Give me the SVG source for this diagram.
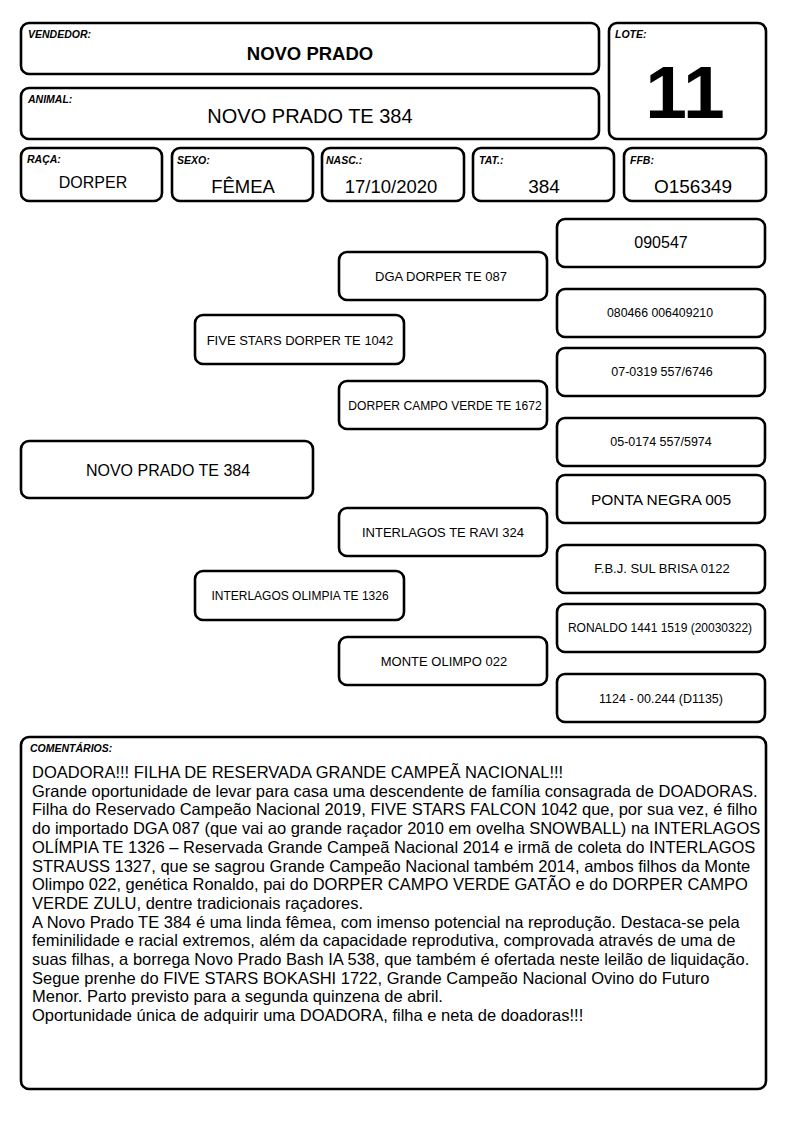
<svg xmlns="http://www.w3.org/2000/svg" width="794" height="1123" viewBox="0 0 794 1123">
<style>
.b{fill:#fff;stroke:#000;stroke-width:2.6}
.lbl{font-family:"Liberation Sans",Arial,sans-serif;font-weight:bold;font-style:italic;font-size:10.5px;fill:#000}
.v{font-family:"Liberation Sans",Arial,sans-serif;fill:#000;text-anchor:middle}
.c{font-family:"Liberation Sans",Arial,sans-serif;font-size:16.5px;fill:#000}
</style>
<rect width="794" height="1123" fill="#fff"/>
<g id="vendedor"><rect class="b" x="21" y="23" width="578" height="51" rx="8"/><text class="lbl" x="28" y="38">VENDEDOR:</text><text class="v" x="310" y="60" font-size="18.5" font-weight="bold">NOVO PRADO</text></g>
<g id="animal"><rect class="b" x="21" y="88" width="578" height="51" rx="8"/><text class="lbl" x="28" y="103">ANIMAL:</text><text class="v" x="310" y="123" font-size="20">NOVO PRADO TE 384</text></g>
<g id="lote"><rect class="b" x="609" y="23" width="157" height="116" rx="8"/><text class="lbl" x="615" y="38">LOTE:</text><text class="v" x="685" y="118" font-size="75" font-weight="bold">11</text></g>
<g id="raca"><rect class="b" x="21" y="148" width="141" height="53" rx="8"/><text class="lbl" x="27" y="163">RAÇA:</text><text class="v" x="93" y="188" font-size="16">DORPER</text></g>
<g id="sexo"><rect class="b" x="172" y="148" width="141" height="53" rx="8"/><text class="lbl" x="177" y="164">SEXO:</text><text class="v" x="243" y="193" font-size="18.5">FÊMEA</text></g>
<g id="nasc"><rect class="b" x="322" y="148" width="142" height="53" rx="8"/><text class="lbl" x="326" y="164">NASC.:</text><text class="v" x="391" y="193" font-size="18.5">17/10/2020</text></g>
<g id="tat"><rect class="b" x="473" y="148" width="141" height="53" rx="8"/><text class="lbl" x="479" y="164">TAT.:</text><text class="v" x="544" y="193" font-size="19">384</text></g>
<g id="ffb"><rect class="b" x="624" y="148" width="142" height="53" rx="8"/><text class="lbl" x="630" y="164">FFB:</text><text class="v" x="693" y="193" font-size="19">O156349</text></g>

<g id="connectors"></g>

<g id="p-main"><rect class="b" x="21" y="441" width="292" height="57" rx="8"/><text class="v" x="168" y="475.5" font-size="16">NOVO PRADO TE 384</text></g>
<g id="p-sire"><rect class="b" x="195" y="315" width="209" height="49" rx="8"/><text class="v" x="300" y="344.5" font-size="13">FIVE STARS DORPER TE 1042</text></g>
<g id="p-dam"><rect class="b" x="195" y="571" width="209" height="49" rx="8"/><text class="v" x="300" y="600" font-size="12">INTERLAGOS OLIMPIA TE 1326</text></g>
<g id="p-ss"><rect class="b" x="339" y="252" width="208" height="48" rx="8"/><text class="v" x="441" y="280.5" font-size="13">DGA DORPER TE 087</text></g>
<g id="p-sd"><rect class="b" x="339" y="381" width="208" height="48" rx="8"/><text class="v" x="445" y="409.5" font-size="12.1">DORPER CAMPO VERDE TE 1672</text></g>
<g id="p-ds"><rect class="b" x="339" y="508" width="208" height="48" rx="8"/><text class="v" x="443" y="536.5" font-size="13">INTERLAGOS TE RAVI 324</text></g>
<g id="p-dd"><rect class="b" x="339" y="637" width="208" height="48" rx="8"/><text class="v" x="444" y="665.5" font-size="13">MONTE OLIMPO 022</text></g>
<g id="p-sss"><rect class="b" x="557" y="219" width="208" height="48" rx="8"/><text class="v" x="661" y="248" font-size="16">090547</text></g>
<g id="p-ssd"><rect class="b" x="557" y="289" width="208" height="48" rx="8"/><text class="v" x="660" y="317" font-size="12.3">080466 006409210</text></g>
<g id="p-sds"><rect class="b" x="557" y="348" width="208" height="48" rx="8"/><text class="v" x="662" y="376" font-size="12.5">07-0319 557/6746</text></g>
<g id="p-sdd"><rect class="b" x="557" y="418" width="208" height="48" rx="8"/><text class="v" x="661" y="446" font-size="12.5">05-0174 557/5974</text></g>
<g id="p-dss"><rect class="b" x="557" y="475" width="208" height="48" rx="8"/><text class="v" x="661" y="504.5" font-size="15.5">PONTA NEGRA 005</text></g>
<g id="p-dsd"><rect class="b" x="557" y="545" width="208" height="48" rx="8"/><text class="v" x="662" y="573" font-size="13">F.B.J. SUL BRISA 0122</text></g>
<g id="p-dds"><rect class="b" x="557" y="604" width="208" height="48" rx="8"/><text class="v" x="660" y="632" font-size="12">RONALDO 1441 1519 (20030322)</text></g>
<g id="p-ddd"><rect class="b" x="557" y="674" width="208" height="48" rx="8"/><text class="v" x="661" y="702.5" font-size="12.5">1124 - 00.244 (D1135)</text></g>

<g id="comentarios"><rect class="b" x="21" y="737" width="745" height="352" rx="8"/>
<text class="lbl" x="30" y="752" font-size="10">COMENTÁRIOS:</text>
<text class="c" x="32" y="778">DOADORA!!! FILHA DE RESERVADA GRANDE CAMPEÃ NACIONAL!!!</text>
<text class="c" x="32" y="796.7">Grande oportunidade de levar para casa uma descendente de família consagrada de DOADORAS.</text>
<text class="c" x="32" y="815.4">Filha do Reservado Campeão Nacional 2019, FIVE STARS FALCON 1042 que, por sua vez, é filho</text>
<text class="c" x="32" y="834.1">do importado DGA 087 (que vai ao grande raçador 2010 em ovelha SNOWBALL) na INTERLAGOS</text>
<text class="c" x="32" y="852.8">OLÍMPIA TE 1326 – Reservada Grande Campeã Nacional 2014 e irmã de coleta do INTERLAGOS</text>
<text class="c" x="32" y="871.5">STRAUSS 1327, que se sagrou Grande Campeão Nacional também 2014, ambos filhos da Monte</text>
<text class="c" x="32" y="890.2">Olimpo 022, genética Ronaldo, pai do DORPER CAMPO VERDE GATÃO e do DORPER CAMPO</text>
<text class="c" x="32" y="908.9">VERDE ZULU, dentre tradicionais raçadores.</text>
<text class="c" x="32" y="927.6">A Novo Prado TE 384 é uma linda fêmea, com imenso potencial na reprodução. Destaca-se pela</text>
<text class="c" x="32" y="946.3">feminilidade e racial extremos, além da capacidade reprodutiva, comprovada através de uma de</text>
<text class="c" x="32" y="965">suas filhas, a borrega Novo Prado Bash IA 538, que também é ofertada neste leilão de liquidação.</text>
<text class="c" x="32" y="983.7">Segue prenhe do FIVE STARS BOKASHI 1722, Grande Campeão Nacional Ovino do Futuro</text>
<text class="c" x="32" y="1002.4">Menor. Parto previsto para a segunda quinzena de abril.</text>
<text class="c" x="32" y="1021.1">Oportunidade única de adquirir uma DOADORA, filha e neta de doadoras!!!</text>
</g>
</svg>
